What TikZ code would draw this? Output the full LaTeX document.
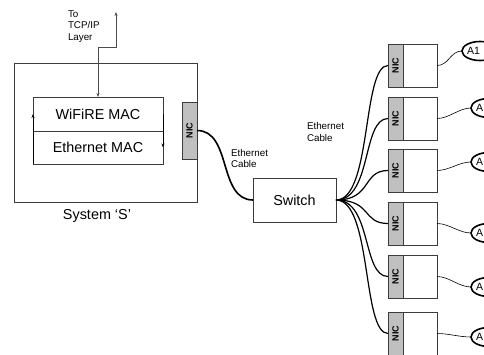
\documentclass[tikz,border=0pt]{standalone}
\usepackage{fontspec}
\setmainfont{Liberation Sans}
\usetikzlibrary{positioning,arrows.meta,shapes.geometric}
\definecolor{niccolor}{RGB}{192,192,192}
\definecolor{linecolor}{RGB}{60,60,60}

\begin{document}
\begin{tikzpicture}[x=1pt,y=-1pt,
  every node/.style={inner sep=0pt,outer sep=0pt},
  box/.style={draw=linecolor,line width=0.8pt,fill=white},
  nicbox/.style={draw=linecolor,line width=0.8pt,fill=niccolor,minimum width=15pt,minimum height=43pt},
  niclabel/.style={rotate=90,font=\bfseries\fontsize{9}{10}\selectfont},
  host/.style={draw=black,line width=1.6pt,ellipse,minimum width=36pt,minimum height=19pt},
  bigtext/.style={font=\fontsize{14.4}{17}\selectfont},
  smalltext/.style={font=\fontsize{9.8}{11.5}\selectfont,align=left},
  cable/.style={line width=1.6pt,black},
  link/.style={line width=0.6pt,black},
  tip/.style={-{Stealth[length=4pt,width=3pt]},line width=0.6pt,black},
  sig/.style={line width=0.6pt,black!70,{Stealth[length=4pt,width=3pt]}-{Stealth[length=4pt,width=3pt]}}
]
\useasboundingbox (0,0) rectangle (484,354);

% System S with its MAC layers
\node[box,minimum width=183pt,minimum height=139pt] (sys) at (105.5,132.5) {};
\node[bigtext] (syslabel) at (97,216) {System `S'};
\node[box,bigtext,minimum width=130pt,minimum height=34pt] (wifi) at (98,114) {WiFiRE MAC};
\node[box,bigtext,minimum width=130pt,minimum height=33pt] (eth) at (98,147.5) {Ethernet MAC};
\draw[tip] (eth.south west) -- (wifi.west);
\draw[tip] (wifi.east) -- (eth.east);

% up to the TCP/IP layer
\coordinate (tcp) at (116,12);
\coordinate (bend) at (98,47);
\draw[sig] (tcp) |- (bend) -- (wifi.north);
\node[smalltext,anchor=north west] (tcplabel) at (68,10.5) {To\\TCP/IP\\Layer};

% NIC of S and cable to the switch
\node[nicbox,minimum height=57pt] (snic) at (189.5,130.5) {};
\node[niclabel] at (snic) {NIC};
\node[box,bigtext,minimum width=83pt,minimum height=44pt] (sw) at (294.5,200) {Switch};
\draw[cable] (snic.east) .. controls (232,130.5) and (218,200) .. (sw.west);
\node[smalltext,anchor=north west] (cablelabel) at (231,149) {Ethernet\\Cable};
\node[smalltext,anchor=north west] (fanlabel) at (307,122.5) {Ethernet\\Cable};

% clients
\foreach \i/\ytop/\ay/\ax/\name in {1/44/51/462/A1,2/97/108/471/A,3/149/162/471/A,4/202/233/471/A,5/255/287/471/A,6/312/337/471/A}{
  \node[nicbox] (nic\i) at (395.5,\ytop+21.5) {};
  \node[box,minimum width=34pt,minimum height=43pt] (pc\i) at (420,\ytop+21.5) {};
  \node[niclabel] at (nic\i) {NIC};
  \node[host] (a\i) at (\ax+18,\ay) {};
  \node[anchor=west,font=\fontsize{10.5}{12}\selectfont] at ([xshift=5pt]a\i.west) {\name};
  \draw[cable,line width=1.2pt] (sw.east) .. controls (372,200) and (362,\ytop+21.5) .. (nic\i.west);
  \draw[link] (pc\i.east) .. controls +(12,0) and +(-12,0) .. (a\i.west);
}
\end{tikzpicture}
\end{document}
